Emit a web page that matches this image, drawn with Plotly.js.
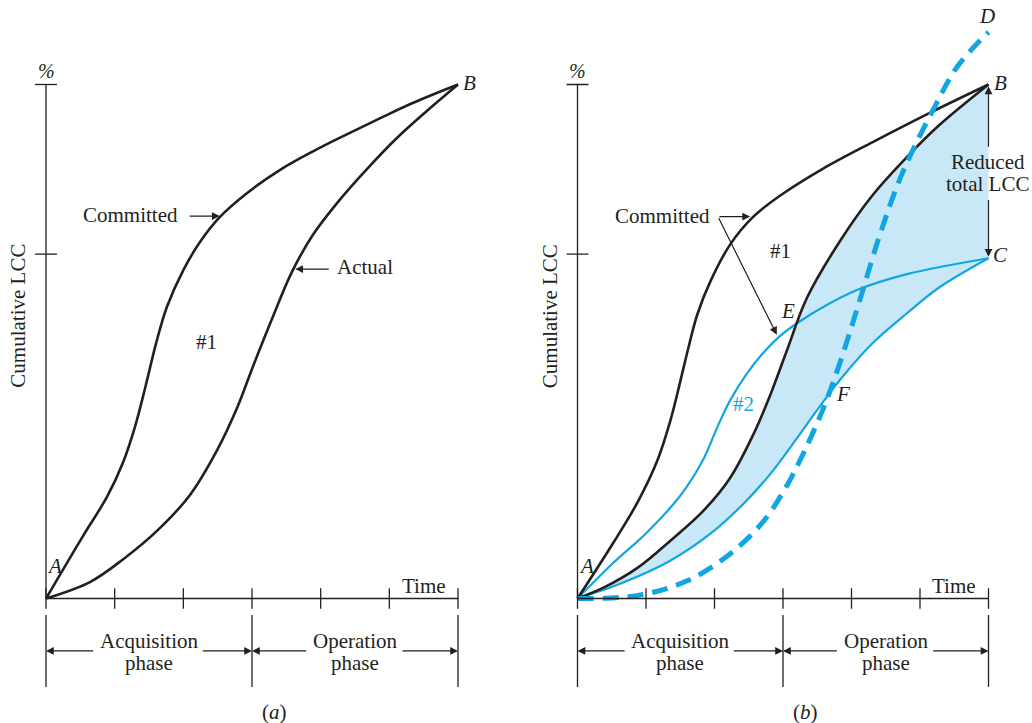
<!DOCTYPE html>
<html>
<head>
<meta charset="utf-8">
<script src="https://cdn.plot.ly/plotly-3.0.1.min.js"></script>
<style>html,body{margin:0;padding:0;background:#fff;}#chart{width:1032px;height:723px;}</style>
</head>
<body>
<div id="chart"></div>
<script>
// ---------- DATA (time units 0..6, cumulative LCC in %) ----------
const timeTicks = [0, 1, 2, 3, 4, 5, 6];
const phaseBounds = [0, 3, 6];
const lccTicks = [67, 100];

// Panel (a)
const committedA_x = [0, 0.54, 0.89, 1.12, 1.30, 1.45, 1.60, 1.76, 2.00, 2.25, 2.53, 2.93, 3.41, 3.89, 4.38, 4.86, 5.34, 6.0];
const committedA_y = [0, 12.2, 19.8, 26.4, 33.6, 41.3, 49.5, 56.7, 63.9, 69.5, 74.2, 78.9, 83.4, 87.0, 90.3, 93.4, 96.4, 100];
const actualA_x = [0, 0.64, 1.12, 1.62, 2.10, 2.49, 2.78, 3.01, 3.31, 3.58, 3.89, 4.28, 4.67, 5.11, 5.55, 6.0];
const actualA_y = [0, 3.2, 7.6, 13.2, 20.2, 28.8, 37.0, 45.0, 55.0, 63.5, 70.8, 77.6, 83.5, 89.6, 94.9, 100];

// Panel (b)
const committed1_x = [0, 0.53, 0.88, 1.17, 1.36, 1.50, 1.61, 1.75, 1.94, 2.23, 2.56, 2.96, 3.58, 4.31, 5.10, 6.0];
const committed1_y = [0, 11.0, 18.8, 27.0, 34.8, 42.2, 48.3, 55.3, 61.7, 68.9, 74.2, 78.4, 83.6, 88.8, 94.2, 100];
const actual1_x = [0, 0.38, 0.88, 1.36, 1.84, 2.23, 2.57, 2.82, 3.05, 3.35, 3.83, 4.31, 4.81, 5.29, 6.0];
const actual1_y = [0, 2.1, 6.0, 11.3, 17.1, 23.5, 32.0, 39.8, 48.0, 58.5, 69.5, 78.5, 85.9, 92.2, 100];
const committed2_x = [0, 0.52, 1.01, 1.50, 1.83, 2.04, 2.23, 2.48, 2.70, 2.95, 3.21, 3.60, 4.08, 4.81, 6.0];
const committed2_y = [0, 6.9, 12.8, 20.0, 26.9, 33.3, 38.6, 43.9, 47.6, 51.0, 53.6, 56.8, 60.0, 63.1, 66.2];
const actual2_x = [0, 0.63, 1.36, 1.94, 2.42, 2.82, 3.21, 3.50, 3.83, 4.31, 4.81, 5.29, 6.0];
const actual2_y = [0, 2.9, 7.4, 12.6, 18.4, 24.3, 31.3, 36.7, 42.5, 49.7, 55.5, 60.6, 66.2];
const trendD_x = [0, 0.88, 1.61, 2.23, 2.72, 3.07, 3.30, 3.58, 3.83, 4.12, 4.42, 4.75, 5.19, 5.54, 6.0];
const trendD_y = [0, 0.6, 3.5, 8.7, 15.1, 22.3, 28.3, 36.7, 45.8, 58.0, 71.0, 83.0, 95.0, 103.4, 110.2];

// ---------- STYLE ----------
const FONT = 'Liberation Serif, "Times New Roman", serif';
const INK = '#231f20';
const BLUE = '#12a6e0';
const FILL = '#c8e8f7';
const FS = 21;

function line(xs, ys, xa, ya, color, width, dash) {
  return {x: xs, y: ys, xaxis: xa, yaxis: ya, type: 'scatter', mode: 'lines',
    line: {color: color, width: width, dash: dash || 'solid', shape: 'spline', smoothing: 1},
    hoverinfo: 'skip', showlegend: false};
}

const traces = [
  // shaded band between the two "actual" curves (drawn first, under the lines)
  {x: actual2_x, y: actual2_y, xaxis: 'x2', yaxis: 'y2', type: 'scatter', mode: 'lines',
   line: {width: 0, color: FILL, shape: 'spline', smoothing: 1}, hoverinfo: 'skip', showlegend: false},
  {x: actual1_x, y: actual1_y, xaxis: 'x2', yaxis: 'y2', type: 'scatter', mode: 'lines', fill: 'tonexty',
   fillcolor: FILL, line: {width: 0, color: FILL, shape: 'spline', smoothing: 1}, hoverinfo: 'skip', showlegend: false},
  line(committedA_x, committedA_y, 'x', 'y', INK, 2.6),
  line(actualA_x, actualA_y, 'x', 'y', INK, 2.6),
  line(committed2_x, committed2_y, 'x2', 'y2', BLUE, 2.2),
  line(actual2_x, actual2_y, 'x2', 'y2', BLUE, 2.2),
  line(committed1_x, committed1_y, 'x2', 'y2', INK, 2.6),
  line(actual1_x, actual1_y, 'x2', 'y2', INK, 2.6),
  line(trendD_x, trendD_y, 'x2', 'y2', BLUE, 5, '16px,9px')
];

const shapes = [];
const annotations = [];
function seg(xr, yr, x0, y0, x1, y1, w) {
  shapes.push({type: 'line', xref: xr, yref: yr, x0: x0, y0: y0, x1: x1, y1: y1,
    line: {color: INK, width: w || 1.3}, layer: 'above'});
}
function txt(xr, yr, x, y, text, opts) {
  annotations.push(Object.assign({xref: xr, yref: yr, x: x, y: y, text: text, showarrow: false,
    font: {family: FONT, size: FS, color: INK}}, opts || {}));
}
function arrow(xr, yr, hx, hy, tx, ty) {
  annotations.push({xref: xr, yref: yr, axref: xr, ayref: yr, x: hx, y: hy, ax: tx, ay: ty, text: '',
    showarrow: true, arrowhead: 2, arrowsize: 1.3, arrowwidth: 1.2, arrowcolor: INK, standoff: 0, startstandoff: 0});
}

function frame(xr, yr, tag) {
  seg(xr, yr, 0, 0, 0, 100);
  seg(xr, yr, 0, 0, 6, 0);
  timeTicks.forEach(t => seg(xr, yr, t, -2, t, 2));
  lccTicks.forEach(v => seg(xr, yr, -0.16, v, 0.16, v));
  phaseBounds.forEach(b => seg(xr, yr, b, -3.2, b, -17.2));
  arrow(xr, yr, 0, -10.2, 0.71, -10.2);
  arrow(xr, yr, 3, -10.2, 2.26, -10.2);
  arrow(xr, yr, 3, -10.2, 3.81, -10.2);
  arrow(xr, yr, 6, -10.2, 5.17, -10.2);
  txt(xr, yr, 1.5, -8.3, 'Acquisition');
  txt(xr, yr, 1.5, -12.6, 'phase');
  txt(xr, yr, 4.5, -8.3, 'Operation');
  txt(xr, yr, 4.5, -12.6, 'phase');
  txt(xr, yr, 5.5, 2.5, 'Time');
  txt(xr, yr, 0.0, 102.7, '<i>%</i>', {font: {family: FONT, size: 20, color: INK}});
  txt(xr, yr, -0.41, 55, 'Cumulative LCC', {textangle: -90});
  txt(xr, yr, 0.13, 6.3, '<i>A</i>');
  txt(xr, yr, 6.17, 100.2, '<i>B</i>');
  txt(xr, yr, 3.33, -22.1, '(<i>' + tag + '</i>)');
}
frame('x', 'y', 'a');
frame('x2', 'y2', 'b');

// panel (a) labels
txt('x', 'y', 1.23, 74.6, 'Committed');
arrow('x', 'y', 2.53, 74.4, 2.07, 74.4);
txt('x', 'y', 4.65, 64.5, 'Actual');
arrow('x', 'y', 3.63, 64.1, 4.14, 64.1);
txt('x', 'y', 2.34, 49.9, '#1');

// panel (b) labels
txt('x2', 'y2', 1.24, 74.5, 'Committed');
arrow('x2', 'y2', 2.52, 74.3, 2.05, 74.3);
arrow('x2', 'y2', 2.91, 51.3, 2.05, 74.3);
txt('x2', 'y2', 2.96, 67.6, '#1');
txt('x2', 'y2', 2.42, 37.8, '#2', {font: {family: FONT, size: FS, color: BLUE}});
txt('x2', 'y2', 3.07, 55.9, '<i>E</i>');
txt('x2', 'y2', 3.88, 39.8, '<i>F</i>');
txt('x2', 'y2', 6.17, 66.8, '<i>C</i>');
txt('x2', 'y2', 5.98, 113.4, '<i>D</i>');
txt('x2', 'y2', 5.99, 84.9, 'Reduced');
txt('x2', 'y2', 5.99, 80.6, 'total LCC');
arrow('x2', 'y2', 6, 99.6, 6, 87.6);
arrow('x2', 'y2', 6, 66.5, 6, 77.8);

const yr = [-24.22, 116.44];
const layout = {
  width: 1032, height: 723,
  margin: {l: 0, r: 0, t: 0, b: 0, pad: 0},
  paper_bgcolor: '#ffffff', plot_bgcolor: 'rgba(0,0,0,0)',
  showlegend: false,
  xaxis: {domain: [0, 499.2 / 1032], range: [-0.67, 6.6], visible: false, fixedrange: true, anchor: 'y'},
  yaxis: {domain: [0, 1], range: yr, visible: false, fixedrange: true, anchor: 'x'},
  xaxis2: {domain: [529.55 / 1032, 1029.6 / 1032], range: [-0.7, 6.6], visible: false, fixedrange: true, anchor: 'y2'},
  yaxis2: {domain: [0, 1], range: yr, visible: false, fixedrange: true, anchor: 'x2'},
  shapes: shapes,
  annotations: annotations,
  font: {family: FONT, color: INK}
};
Plotly.newPlot('chart', traces, layout, {staticPlot: true, displayModeBar: false});
</script>
</body>
</html>
